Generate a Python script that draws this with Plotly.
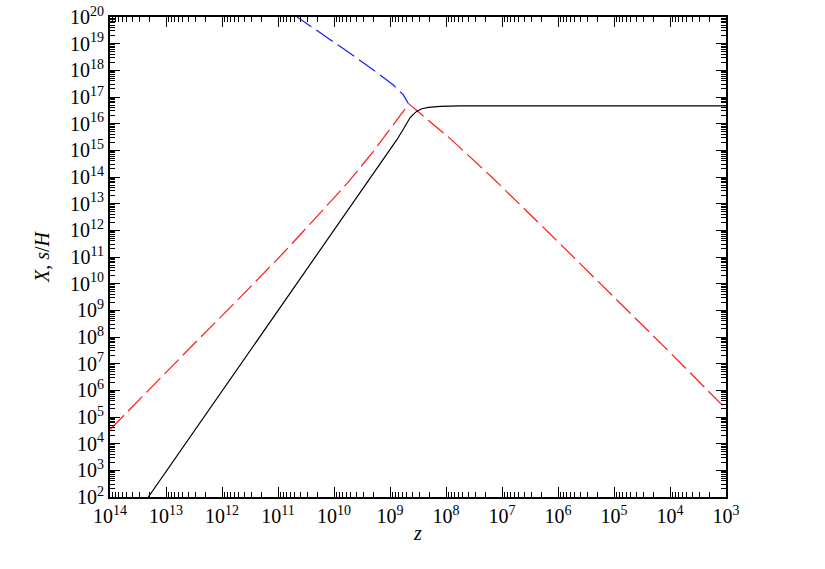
import plotly.graph_objects as go

# Black solid curve (X)
z_black = [2.07e13, 1e12, 1e11, 1e10, 1.51e9, 7.59e8, 5.75e8, 5.01e8, 4.40e8,
           3.80e8, 3.31e8, 2.69e8, 2.07e8, 1.26e8, 5.62e7, 1e7, 1e5, 1e3]
y_black = [1e2, 9.33e5, 9.77e8, 1.02e12, 3.09e14, 2.45e15, 6.31e15, 1.02e16, 1.66e16,
           2.29e16, 2.95e16, 3.63e16, 4.07e16, 4.47e16, 4.68e16, 4.68e16, 4.68e16, 4.68e16]

# Red dashed, rising branch
z_red_left = [1e14, 1.68e13, 3.24e12, 5.89e11, 8.04e10, 1.02e10, 5.62e9, 2.0e9, 1e9, 5.37e8]
y_red_left = [3.39e4, 1.58e6, 5.25e7, 1.91e9, 1.41e11, 1.58e13, 6.31e13, 8.91e14, 6.03e15, 3.55e16]

# Red dashed, falling branch
z_red_right = [4.71e8, 3.31e8, 2.0e8, 8.49e7, 3.55e7, 1.53e7, 1.49e6, 1.18e5, 1e4, 1e3]
y_red_right = [5.75e16, 3.02e16, 1.26e16, 2.82e15, 5.37e14, 1e14, 8.51e11, 4.47e9, 2.63e7, 2.0e5]

# Blue dashed branch
z_blue = [5.01e10, 1.58e10, 5.18e9, 2.0e9, 8.71e8, 6.62e8, 5.78e8, 4.71e8]
y_blue = [1.15e20, 2.24e19, 4.37e18, 1.05e18, 2.82e17, 1.58e17, 1.20e17, 5.75e16]

x_exponents = list(range(14, 2, -1))
y_exponents = list(range(2, 21))
x_ticks = [10.0 ** k for k in x_exponents]
y_ticks = [10.0 ** k for k in y_exponents]
x_labels = ["10<sup>%d</sup>" % k for k in x_exponents]
y_labels = ["10<sup>%d</sup>" % k for k in y_exponents]

def minor_vals(lo, hi):
    return [m * 10.0 ** k for k in range(lo, hi) for m in range(2, 10)]

DASH = "20px,6px"

fig = go.Figure()
fig.add_trace(go.Scatter(x=z_blue, y=y_blue, mode="lines",
                         line=dict(color="#1a1aff", width=1.2, dash=DASH)))
fig.add_trace(go.Scatter(x=z_red_left, y=y_red_left, mode="lines",
                         line=dict(color="#ff1a1a", width=1.2, dash=DASH)))
fig.add_trace(go.Scatter(x=z_red_right, y=y_red_right, mode="lines",
                         line=dict(color="#ff1a1a", width=1.2, dash=DASH)))
fig.add_trace(go.Scatter(x=z_black, y=y_black, mode="lines",
                         line=dict(color="black", width=1.2)))

axis_common = dict(
    type="log", showgrid=False, zeroline=False, showline=True, linecolor="black",
    linewidth=1.8, mirror="allticks", ticks="inside", ticklen=10, tickwidth=1.2,
    tickcolor="black", automargin=False, tickmode="array",
    tickfont=dict(family="Liberation Serif", size=20, color="black"),
)

fig.update_xaxes(**axis_common, range=[14, 3], tickvals=x_ticks, ticktext=x_labels,
                 minor=dict(tickvals=minor_vals(3, 14), ticks="inside", ticklen=5,
                            tickwidth=1, tickcolor="black", showgrid=False),
                 title=dict(text="<i>z</i>", standoff=0,
                            font=dict(family="Liberation Serif", size=20, color="black")))
fig.update_yaxes(**axis_common, range=[2, 20], tickvals=y_ticks, ticktext=y_labels,
                 minor=dict(tickvals=minor_vals(2, 20), ticks="inside", ticklen=5,
                            tickwidth=1, tickcolor="black", showgrid=False),
                 title=dict(text="<i>X</i>, <i>s</i>/<i>H</i>", standoff=15,
                            font=dict(family="Liberation Serif", size=20, color="black")))

fig.update_layout(
    width=825, height=569,
    margin=dict(l=110, r=99, t=17, b=72),
    paper_bgcolor="white", plot_bgcolor="white",
    showlegend=False,
)

fig.write_html("out.html", config={"displayModeBar": False},
               post_script="document.body.style.margin='0';")
